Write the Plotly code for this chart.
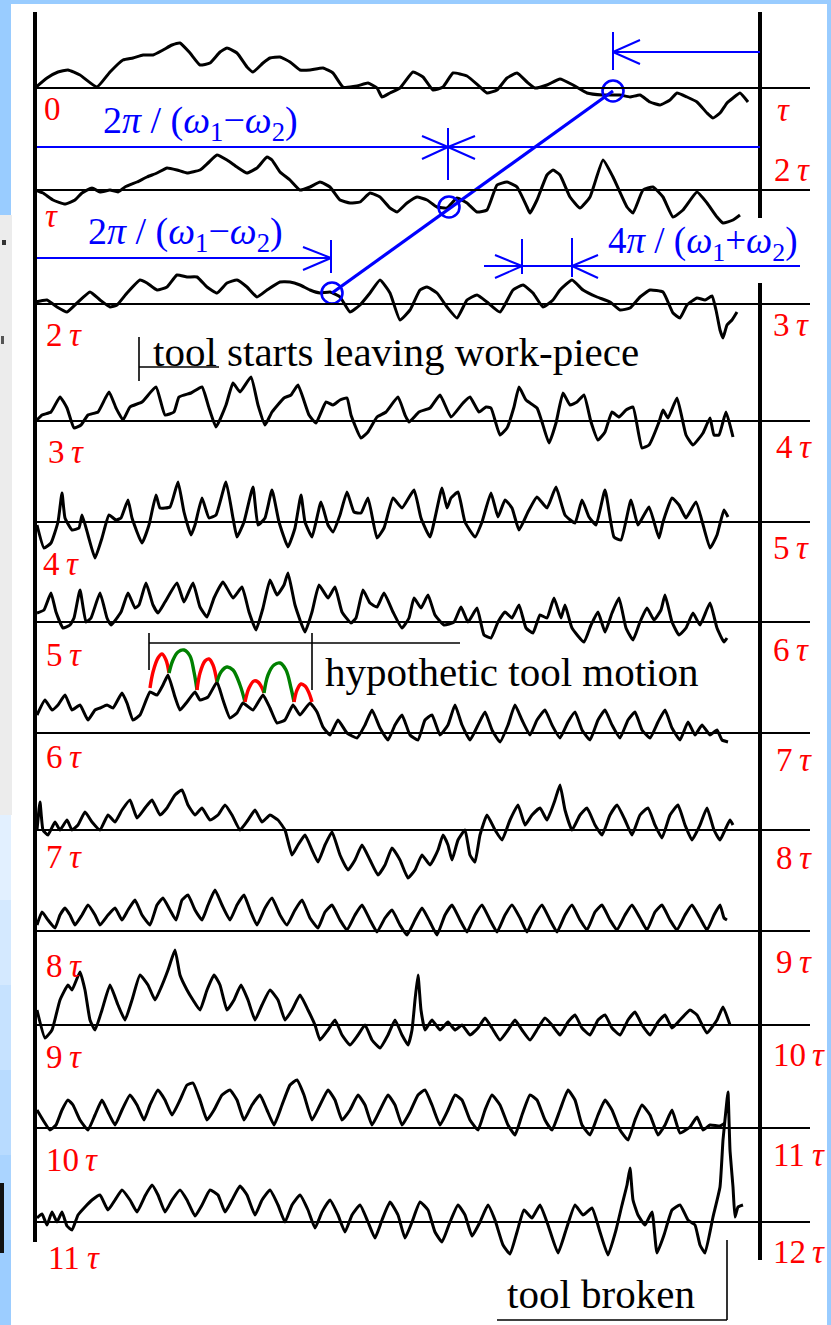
import plotly.graph_objects as go

W, H = 831, 1325

# ---------------------------------------------------------------- data
# baseline (zero line) of every recorded revolution, top to bottom
row_base = [88, 190, 304, 421, 522, 622, 733, 830, 931, 1025, 1128, 1222]

# time labels at the left (start of revolution): multiple of tau, position
left_mult = ["0", "", "2", "3", "4", "5", "6", "7", "8", "9", "10", "11"]
left_has_tau = [False, True, True, True, True, True, True, True, True, True, True, True]
left_label_x = [42, 43, 44, 46, 41, 44, 44, 44, 44, 44, 44, 46]
left_label_y = [109, 216, 335, 452, 564, 655, 757, 857, 966, 1057, 1160, 1258]

# time labels at the right (end of revolution)
right_mult = ["", "2", "3", "4", "5", "6", "7", "8", "9", "10", "11", "12"]
right_label_x = [775, 772, 771, 774, 771, 771, 774, 774, 774, 771, 771, 771]
right_label_y = [110, 170, 325, 447, 548, 650, 760, 858, 962, 1055, 1155, 1252]

# recorded vibration signal of each revolution: (time position, deflection)
rec_0 = [(35,88),(47,78),(58,72),(68,70),(80,75),(97,87),(110,72),(123,60),(133,58),(143,55),(153,55),(163,50),(172,45),(180,43),(190,53),(200,65),(210,63),(220,52),(227,48),(237,53),(247,67),(253,72),(263,63),(270,58),(280,57),(290,62),(300,70),(310,70),(323,68),(333,73),(343,87),(357,86),(368,83),(377,88),(382,97),(390,93),(400,88),(413,72),(423,77),(433,90),(443,87),(453,73),(467,76),(480,87),(487,93),(497,90),(507,78),(517,73),(527,82),(535,88),(547,85),(560,79),(573,85),(587,93),(603,95),(620,95),(630,97),(640,95),(650,102),(660,105),(670,100),(677,93),(687,97),(697,102),(707,113),(713,118),(720,113),(727,103),(733,98),(740,93),(748,102)]
rec_1 = [(35,190),(43,193),(53,200),(65,204),(75,200),(82,193),(92,188),(100,192),(110,190),(118,192),(125,187),(137,182),(147,177),(157,173),(167,168),(177,170),(187,173),(200,170),(208,163),(217,155),(227,160),(237,167),(247,173),(257,168),(267,157),(272,160),(280,172),(290,180),(300,190),(310,187),(320,182),(330,187),(340,200),(350,203),(360,202),(370,193),(380,197),(390,208),(397,212),(407,203),(417,197),(427,200),(437,207),(447,208),(457,198),(467,203),(477,212),(487,210),(497,185),(507,182),(517,187),(527,207),(530,213),(537,200),(547,175),(553,170),(560,175),(570,197),(580,208),(590,197),(603,160),(613,177),(627,207),(633,213),(643,190),(653,187),(663,197),(673,217),(683,210),(697,192),(707,203),(717,217),(723,223),(733,220),(740,215)]
rec_2 = [(35,302),(47,300),(57,307),(67,312),(77,303),(90,292),(100,300),(110,307),(117,305),(127,293),(140,280),(147,283),(157,290),(167,287),(177,275),(187,277),(197,277),(207,287),(217,293),(227,283),(237,280),(247,287),(257,297),(267,290),(280,282),(290,282),(300,285),(310,290),(320,293),(330,292),(340,297),(350,312),(360,305),(370,293),(380,280),(390,293),(400,320),(410,310),(420,290),(427,287),(437,293),(447,307),(457,318),(467,300),(477,295),(487,302),(500,312),(513,290),(523,285),(533,293),(543,307),(553,300),(560,290),(572,280),(583,290),(597,297),(610,302),(620,310),(630,308),(640,297),(650,290),(663,292),(673,313),(680,318),(687,305),(697,298),(705,300),(712,296),(716,310),(720,330),(723,338),(727,325),(732,320),(737,312)]
rec_3 = [(37,420),(42,415),(51,412),(60,397),(67,408),(74,428),(81,425),(88,415),(98,412),(109,392),(116,408),(123,420),(130,407),(142,402),(156,387),(165,415),(174,412),(179,397),(191,393),(202,387),(209,408),(216,427),(226,405),(233,383),(240,392),(251,377),(258,405),(265,425),(272,412),(284,398),(291,395),(298,385),(309,415),(316,423),(326,402),(333,405),(340,400),(347,398),(351,415),(361,438),(368,432),(377,417),(386,412),(398,397),(405,415),(409,422),(419,412),(430,408),(440,395),(451,417),(463,403),(470,397),(479,412),(486,407),(491,408),(500,435),(507,428),(514,407),(519,387),(526,400),(537,408),(542,422),(549,443),(556,423),(563,393),(570,405),(577,402),(584,395),(591,422),(598,440),(605,432),(612,412),(619,417),(626,410),(633,407),(642,448),(649,445),(659,422),(663,410),(668,418),(677,398),(686,435),(693,445),(703,433),(710,418),(714,435),(719,435),(726,412),(733,437)]
rec_4 = [(37,525),(44,548),(51,543),(58,522),(62,493),(65,518),(72,530),(79,528),(82,515),(88,535),(95,558),(102,538),(109,515),(116,520),(121,518),(128,500),(132,518),(142,543),(149,525),(156,495),(160,508),(170,507),(178,482),(184,512),(191,535),(195,525),(202,498),(209,518),(216,515),(226,482),(233,518),(237,537),(244,522),(253,487),(258,525),(265,518),(272,490),(279,522),(288,547),(295,528),(301,495),(305,522),(312,537),(321,502),(328,525),(333,532),(340,515),(347,492),(354,512),(361,513),(368,498),(377,538),(384,528),(393,498),(402,508),(414,490),(421,518),(430,537),(442,488),(447,508),(451,498),(458,492),(465,522),(475,537),(482,522),(491,493),(498,517),(505,500),(512,508),(519,530),(528,512),(537,497),(547,508),(556,487),(565,515),(575,523),(582,500),(589,517),(596,525),(605,490),(614,537),(621,540),(631,500),(638,525),(649,507),(659,538),(663,522),(672,498),(679,505),(686,518),(696,502),(710,548),(717,535),(724,510),(728,517)]
rec_5 = [(37,613),(44,610),(51,593),(56,612),(63,628),(70,625),(74,618),(80,590),(86,622),(91,618),(100,593),(107,618),(111,625),(121,612),(128,593),(135,608),(139,605),(146,583),(153,605),(158,613),(165,602),(177,583),(184,602),(193,583),(200,607),(207,617),(214,598),(223,582),(233,598),(242,587),(249,612),(256,630),(263,608),(270,580),(277,595),(284,585),(288,573),(295,605),(305,632),(312,612),(319,585),(328,598),(335,587),(342,612),(351,623),(356,618),(363,590),(370,603),(377,607),(384,593),(393,612),(402,628),(409,618),(414,598),(421,608),(428,595),(435,615),(444,625),(454,622),(461,607),(468,622),(477,608),(484,635),(491,638),(498,622),(505,612),(512,618),(519,605),(526,628),(533,633),(540,615),(547,618),(554,598),(561,618),(565,605),(572,628),(584,642),(591,625),(598,612),(605,632),(612,613),(619,598),(626,628),(633,640),(640,622),(647,608),(654,620),(661,610),(665,595),(672,622),(679,635),(686,628),(693,613),(700,625),(710,603),(717,628),(724,642),(727,638)]
rec_6 = [(37,715),(45,700),(52,710),(58,705),(65,695),(72,710),(80,705),(88,720),(95,710),(100,708),(107,705),(113,708),(122,693),(127,703),(133,720),(140,715),(150,692),(157,695),(163,685),(168,675),(175,697),(180,710),(187,702),(195,692),(200,700),(208,697),(217,682),(223,700),(230,718),(237,713),(243,703),(253,710),(263,695),(270,708),(277,723),(285,720),(293,705),(300,715),(310,703),(317,712),(323,727),(330,735),(338,720),(347,733),(357,738),(365,725),(372,710),(380,728),(388,740),(395,725),(402,715),(410,735),(418,740),(425,720),(432,715),(440,735),(448,725),(455,705),(462,725),(470,740),(478,725),(485,712),(492,730),(500,742),(508,725),(515,705),(522,720),(530,735),(537,720),(545,710),(552,725),(560,738),(568,722),(575,712),(582,730),(590,740),(598,720),(605,710),(612,725),(620,738),(628,720),(635,712),(642,730),(650,738),(658,722),(665,710),(672,728),(680,740),(688,722),(695,735),(702,725),(710,735),(717,730),(722,740),(728,742)]
rec_7 = [(37,830),(40,802),(43,830),(48,835),(55,822),(60,830),(67,820),(72,830),(78,825),(85,812),(92,822),(100,830),(108,815),(115,822),(122,810),(130,800),(137,818),(145,808),(152,800),(160,815),(167,808),(175,795),(182,790),(188,805),(195,815),(202,808),(210,820),(218,815),(225,805),(232,815),(240,830),(248,820),(255,810),(262,822),(270,815),(278,820),(285,830),(292,855),(298,845),(305,835),(312,850),(318,862),(325,845),(332,832),(340,855),(348,870),(355,860),(362,845),(370,860),(378,875),(385,865),(392,848),(400,860),(408,878),(415,870),(422,855),(430,865),(438,850),(443,835),(448,845),(452,860),(458,840),(465,830),(470,855),(475,862),(480,835),(487,815),(495,830),(502,840),(510,820),(518,805),(525,825),(532,815),(540,808),(547,820),(555,800),(560,785),(565,810),(572,830),(580,815),(587,808),(595,825),(602,835),(610,815),(617,805),(625,820),(632,835),(640,815),(648,808),(655,825),(662,838),(670,815),(678,805),(685,825),(692,840),(700,825),(707,808),(714,830),(720,840),(725,830),(730,820),(733,825)]
rec_8 = [(37,925),(42,912),(48,920),(55,928),(60,915),(65,908),(70,915),(75,925),(82,915),(88,905),(95,915),(100,925),(108,915),(115,908),(122,920),(128,910),(135,900),(142,915),(150,925),(157,905),(163,898),(170,910),(176,920),(182,900),(188,895),(195,910),(202,920),(208,905),(215,890),(222,905),(230,920),(237,905),(244,895),(250,910),(257,925),(265,908),(272,898),(280,915),(287,925),(295,910),(302,900),(310,918),(318,928),(325,912),(332,905),(340,920),(347,930),(355,915),(362,905),(370,920),(377,932),(385,918),(392,910),(400,925),(407,935),(415,920),(422,908),(430,922),(437,935),(445,915),(452,905),(460,920),(467,932),(475,915),(482,905),(490,920),(497,932),(505,915),(512,905),(520,918),(527,932),(535,915),(542,905),(550,920),(557,932),(565,915),(572,905),(580,920),(587,930),(595,912),(602,905),(610,920),(617,930),(625,915),(632,905),(640,918),(647,930),(655,912),(662,905),(670,920),(677,930),(685,915),(692,905),(700,918),(707,930),(714,915),(720,905),(724,918),(727,920)]
rec_9 = [(37,1010),(45,1038),(52,1030),(60,1000),(68,985),(72,990),(80,972),(85,990),(90,1020),(95,1030),(102,1010),(110,985),(118,1005),(125,1020),(132,1000),(140,975),(148,985),(155,1000),(160,990),(168,970),(175,950),(180,975),(187,990),(193,1000),(200,1010),(207,990),(214,975),(220,985),(227,1010),(234,1000),(241,985),(248,1000),(255,1020),(262,1005),(270,990),(278,1000),(285,1020),(292,1010),(300,995),(308,1010),(315,1025),(320,1040),(328,1030),(335,1020),(342,1035),(350,1045),(358,1035),(365,1025),(372,1040),(380,1048),(388,1035),(395,1020),(402,1035),(408,1045),(412,1030),(415,1000),(418,975),(421,1010),(425,1030),(432,1020),(440,1030),(448,1022),(455,1030),(462,1025),(470,1035),(478,1028),(485,1018),(492,1028),(500,1040),(508,1030),(515,1020),(522,1030),(530,1040),(538,1028),(545,1018),(552,1025),(560,1035),(568,1022),(575,1015),(582,1028),(590,1035),(598,1020),(605,1015),(612,1028),(620,1035),(628,1020),(635,1012),(642,1025),(650,1035),(658,1022),(665,1015),(672,1028),(680,1020),(690,1010),(697,1015),(707,1033),(717,1020),(723,1007),(730,1025)]
rec_10 = [(37,1110),(43,1120),(50,1130),(56,1125),(62,1110),(68,1100),(73,1105),(80,1120),(88,1130),(95,1115),(102,1100),(108,1112),(115,1125),(122,1110),(130,1095),(137,1105),(144,1120),(150,1105),(158,1090),(165,1100),(172,1115),(180,1100),(187,1085),(193,1083),(200,1100),(207,1120),(214,1110),(222,1095),(230,1090),(237,1100),(244,1120),(252,1105),(260,1095),(267,1110),(274,1125),(282,1105),(290,1085),(297,1080),(304,1095),(312,1120),(320,1105),(328,1090),(335,1100),(342,1120),(350,1110),(358,1095),(365,1105),(372,1125),(380,1110),(388,1095),(395,1105),(402,1125),(410,1112),(418,1095),(425,1090),(432,1105),(440,1125),(448,1110),(455,1095),(462,1100),(470,1120),(478,1130),(485,1110),(492,1095),(500,1105),(508,1125),(515,1135),(522,1115),(530,1095),(537,1100),(545,1120),(552,1130),(560,1110),(568,1090),(575,1100),(582,1125),(590,1135),(598,1115),(605,1100),(612,1110),(620,1130),(628,1140),(635,1120),(642,1105),(650,1115),(658,1135),(665,1125),(672,1110),(680,1133),(690,1127),(697,1117),(703,1130),(710,1125),(720,1126),(725,1123)]
rec_11 = [(37,1218),(42,1214),(47,1225),(52,1212),(57,1222),(62,1212),(67,1226),(72,1230),(78,1215),(85,1207),(92,1200),(100,1195),(108,1210),(115,1200),(122,1190),(130,1200),(137,1212),(145,1196),(152,1185),(158,1195),(165,1212),(172,1200),(180,1190),(187,1200),(195,1216),(202,1205),(210,1190),(218,1195),(225,1212),(232,1200),(240,1186),(247,1195),(255,1215),(262,1200),(270,1190),(278,1205),(285,1222),(292,1205),(300,1195),(308,1210),(315,1228),(322,1212),(330,1200),(338,1215),(345,1232),(352,1215),(360,1205),(368,1222),(375,1238),(382,1220),(390,1202),(398,1215),(405,1238),(412,1222),(420,1202),(428,1210),(435,1232),(442,1242),(450,1222),(458,1205),(465,1215),(472,1236),(480,1222),(488,1205),(495,1220),(503,1245),(510,1254),(517,1232),(524,1210),(532,1218),(540,1205),(548,1225),(558,1253),(566,1230),(575,1205),(583,1215),(592,1208),(600,1232),(608,1255),(616,1230),(622,1205),(627,1185),(630,1168),(633,1200),(638,1215),(645,1225),(652,1212),(657,1253),(664,1235),(672,1210),(680,1205),(688,1220),(695,1225),(700,1245),(705,1253),(713,1217),(720,1187),(723,1140),(727,1100),(728,1092),(730,1150),(733,1187),(735,1217),(738,1207),(743,1205)]
recordings = [rec_0, rec_1, rec_2, rec_3, rec_4, rec_5, rec_6, rec_7, rec_8, rec_9, rec_10, rec_11]

# hypothetic tool motion: alternating red / green arcs
arc_colors = ["#ff0000", "#008000", "#ff0000", "#008000", "#ff0000", "#008000", "#ff0000"]
arcs = [
    [(150,688),(153,672),(158,658),(162,654),(166,660),(169,673)],
    [(169,673),(173,660),(178,652),(184,650),(190,656),(194,672),(197,690)],
    [(197,690),(200,673),(205,661),(209,659),(213,665),(217,682)],
    [(217,682),(221,672),(227,667),(233,670),(240,685),(245,702)],
    [(245,702),(249,688),(254,681),(258,682),(262,688),(264,693)],
    [(264,693),(268,675),(274,665),(280,663),(286,670),(291,688),(294,702)],
    [(294,702),(297,690),(301,684),(305,686),(309,693),(312,702)],
]

# phase-tracking points (blue circles) joined by a straight line
track_x = [332, 449, 613]
track_y = [293, 207, 91]

BLUE = "#0000ff"
RED = "#ff0000"
SERIF = "Liberation Serif"
LABEL_SIZE = 33

fig = go.Figure()
shapes = []


def seg(x0, y0, x1, y1, color="black", width=2.0, layer="above"):
    shapes.append(dict(type="line", xref="x", yref="y", x0=x0, y0=y0, x1=x1, y1=y1,
                       line=dict(color=color, width=width), layer=layer))


def rect(x0, y0, x1, y1, color):
    shapes.append(dict(type="rect", xref="x", yref="y", x0=x0, y0=y0, x1=x1, y1=y1,
                       fillcolor=color, line=dict(width=0), layer="below"))


# page background: white sheet on a light blue slide
rect(11, 4, 827, H, "#ffffff")
rect(0, 215, 12, 815, "#ececec")
for i, c in enumerate(["#e2f0ff", "#d4e9ff", "#c6e2ff", "#b8dbff", "#aad4ff", "#9ccdff"]):
    rect(0, 815 + i * 85, 11, 815 + (i + 1) * 85, c)
rect(0, 1183, 4, 1253, "#111111")
rect(2, 240, 6, 245, "#333333")
rect(1, 336, 4, 344, "#555555")

# frame: left and right time boundaries
seg(35, 12, 35, 1242, width=4)
seg(760, 12, 760, 218, width=4)
seg(760, 283, 760, 1260, width=4)

# zero lines
for b in row_base:
    seg(35, b, 810, b, width=1.8)

# recordings
for rec in recordings:
    fig.add_trace(go.Scatter(x=[p[0] for p in rec], y=[p[1] for p in rec], mode="lines",
                             line=dict(color="black", width=3, shape="spline", smoothing=0.4),
                             hoverinfo="skip", showlegend=False))

# hypothetic motion arcs
for pts, col in zip(arcs, arc_colors):
    fig.add_trace(go.Scatter(x=[p[0] for p in pts], y=[p[1] for p in pts], mode="lines",
                             line=dict(color=col, width=3.4, shape="spline"),
                             hoverinfo="skip", showlegend=False))

# phase tracking line and circles
fig.add_trace(go.Scatter(x=[track_x[0], track_x[-1]], y=[track_y[0], track_y[-1]], mode="lines",
                         line=dict(color=BLUE, width=3.2), hoverinfo="skip", showlegend=False))
fig.add_trace(go.Scatter(x=track_x, y=track_y, mode="markers",
                         marker=dict(symbol="circle-open", size=21, color=BLUE,
                                     line=dict(width=2.6, color=BLUE)),
                         hoverinfo="skip", showlegend=False))

# period arrows (blue)
seg(613, 52, 760, 52, BLUE, 2)
seg(613, 32, 613, 70, BLUE, 2)
seg(613, 52, 640, 40, BLUE, 2)
seg(613, 52, 640, 64, BLUE, 2)

seg(37, 147, 760, 147, BLUE, 2)
seg(448, 128, 448, 180, BLUE, 2)
seg(448, 147, 422, 136, BLUE, 2)
seg(448, 147, 422, 159, BLUE, 2)
seg(448, 147, 475, 136, BLUE, 2)
seg(448, 147, 475, 159, BLUE, 2)

seg(37, 258, 331, 258, BLUE, 2)
seg(331, 240, 331, 273, BLUE, 2)
seg(331, 258, 303, 247, BLUE, 2)
seg(331, 258, 303, 270, BLUE, 2)

seg(484, 266, 800, 266, BLUE, 2)
seg(522, 239, 522, 274, BLUE, 2)
seg(522, 266, 495, 255, BLUE, 2)
seg(522, 266, 495, 278, BLUE, 2)
seg(572, 238, 572, 277, BLUE, 2)
seg(572, 266, 598, 255, BLUE, 2)
seg(572, 266, 598, 278, BLUE, 2)

# brackets for the remarks
seg(139, 337, 139, 381, width=1.6)
seg(139, 367, 219, 367, width=1.6)
seg(149, 643, 460, 643, width=1.6)
seg(149, 633, 149, 670, width=1.6)
seg(312, 633, 312, 690, width=1.6)
seg(727, 1240, 727, 1320, width=1.6)
seg(497, 1320, 727, 1320, width=1.6)

annotations = []


def label(text, x, y, color, size, style="normal"):
    annotations.append(dict(text=text, x=x, y=y, xref="x", yref="y", xanchor="left",
                            yanchor="middle", showarrow=False,
                            font=dict(family=SERIF, size=size, color=color, style=style)))


def time_label(mult, has_tau, x, y):
    """Multiple of tau: upright number followed by an italic tau."""
    if mult:
        label(mult, x, y, RED, LABEL_SIZE)
    if has_tau:
        tx = x + (len(mult) * 0.5 * LABEL_SIZE + 6 if mult else 0)
        label("τ", tx, y, RED, LABEL_SIZE, style="italic")


for m, t, x, y in zip(left_mult, left_has_tau, left_label_x, left_label_y):
    time_label(m, t, x, y)
for m, x, y in zip(right_mult, right_label_x, right_label_y):
    time_label(m, True, x, y)

formula_diff = "2<i>π</i> / (<i>ω</i><sub>1</sub>−<i>ω</i><sub>2</sub>)"
formula_sum = "4<i>π</i> / (<i>ω</i><sub>1</sub>+<i>ω</i><sub>2</sub>)"
label(formula_diff, 101, 123, BLUE, 38)
label(formula_diff, 86, 234, BLUE, 38)
label(formula_sum, 606, 243, BLUE, 37)

label("tool starts leaving work-piece", 151, 352, "black", 41)
label("hypothetic tool motion", 323, 672, "black", 41)
label("tool broken", 505, 1294, "black", 41)

fig.update_layout(
    width=W, height=H,
    margin=dict(l=0, r=0, t=0, b=0),
    paper_bgcolor="#99ccff", plot_bgcolor="#99ccff",
    xaxis=dict(range=[0, W], visible=False, fixedrange=True),
    yaxis=dict(range=[H, 0], visible=False, fixedrange=True),
    shapes=shapes, annotations=annotations, showlegend=False,
)

fig.write_html("out.html")
